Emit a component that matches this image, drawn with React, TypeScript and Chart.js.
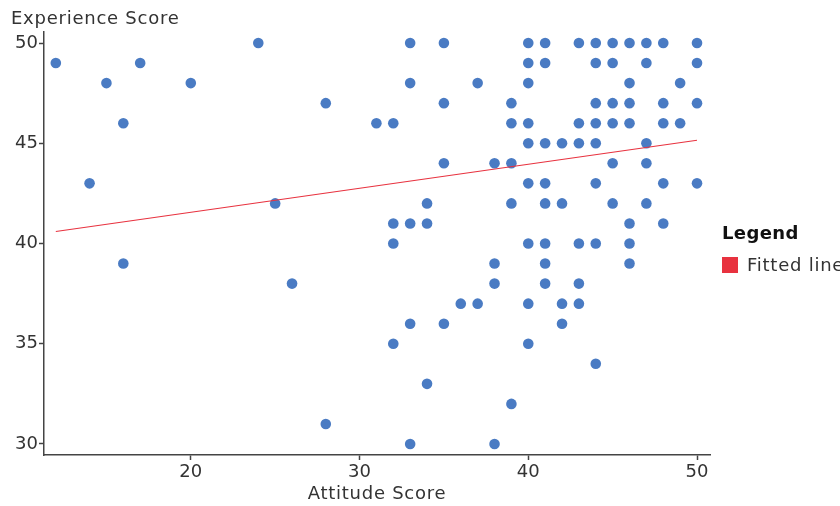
import React, { useEffect, useRef } from "react";
import { Chart, registerables } from "chart.js";

Chart.register(...registerables);

// Attitude Score (x) and Experience Score (y), grouped by experience level
const attitudeScores: number[] = [
  24, 33, 35, 40, 41, 43, 44, 45, 46, 47, 48, 50,
  12, 17, 40, 41, 44, 45, 47, 50,
  15, 20, 33, 37, 40, 46, 49,
  28, 35, 39, 44, 45, 46, 48, 50,
  16, 31, 32, 39, 40, 43, 44, 45, 46, 48, 49,
  40, 41, 42, 43, 44, 47,
  35, 38, 39, 45, 47,
  14, 40, 41, 44, 48, 50,
  25, 34, 39, 41, 42, 45, 47,
  32, 33, 34, 46, 48,
  32, 40, 41, 43, 44, 46,
  16, 38, 41, 46,
  26, 38, 41, 43,
  36, 37, 40, 42, 43,
  33, 35, 42,
  32, 40,
  44,
  34,
  39,
  28,
  33, 38,
];
const experienceScores: number[] = [
  50, 50, 50, 50, 50, 50, 50, 50, 50, 50, 50, 50,
  49, 49, 49, 49, 49, 49, 49, 49,
  48, 48, 48, 48, 48, 48, 48,
  47, 47, 47, 47, 47, 47, 47, 47,
  46, 46, 46, 46, 46, 46, 46, 46, 46, 46, 46,
  45, 45, 45, 45, 45, 45,
  44, 44, 44, 44, 44,
  43, 43, 43, 43, 43, 43,
  42, 42, 42, 42, 42, 42, 42,
  41, 41, 41, 41, 41,
  40, 40, 40, 40, 40, 40,
  39, 39, 39, 39,
  38, 38, 38, 38,
  37, 37, 37, 37, 37,
  36, 36, 36,
  35, 35,
  34,
  33,
  32,
  31,
  30, 30,
];

const fitX: number[] = [12, 50];
const fitY: number[] = [40.6, 45.15];

const xTicks: number[] = [20, 30, 40, 50];
const yTicks: number[] = [30, 35, 40, 45, 50];

const xTitle = "Attitude Score";
const yTitle = "Experience Score";
const legendTitle = "Legend";
const legendLabel = "Fitted line";

const FONT = "'DejaVu Sans', Verdana, sans-serif";
const TEXT = "#333333";
const AXIS = "#444444";
const POINT = "#4a7bc3";
const RED = "#e8323f";

export default function App() {
  const ref = useRef<HTMLCanvasElement | null>(null);

  useEffect(() => {
    if (!ref.current) return;
    const overlay = {
      id: "overlay",
      afterDraw(chart: any) {
        const ctx = chart.ctx as any;
        const area = chart.chartArea;
        ctx.save();
        ctx.fillStyle = TEXT;
        ctx.textBaseline = "middle";
        ctx.font = `18px ${FONT}`;
        ctx.letterSpacing = "0.75px";
        ctx.textAlign = "left";
        ctx.fillText(yTitle, 11, 19.5);
        ctx.textAlign = "center";
        ctx.fillText(xTitle, (area.left + area.right) / 2, 494);
        // legend
        ctx.textAlign = "left";
        ctx.fillStyle = "#111111";
        ctx.font = `bold 18px ${FONT}`;
        ctx.letterSpacing = "0.4px";
        ctx.fillText(legendTitle, 722, 234);
        ctx.fillStyle = RED;
        ctx.fillRect(722, 257, 16, 16);
        ctx.fillStyle = TEXT;
        ctx.font = `18px ${FONT}`;
        ctx.letterSpacing = "0.75px";
        ctx.fillText(legendLabel, 747, 266);
        ctx.restore();
      },
    };

    const chart = new Chart(ref.current, {
      type: "scatter",
      data: {
        datasets: [
          {
            type: "line",
            label: legendLabel,
            data: fitX.map((x, i) => ({ x, y: fitY[i] })),
            borderColor: RED,
            borderWidth: 1.2,
            pointRadius: 0,
            fill: false,
            order: 0,
          } as any,
          {
            label: "Scores",
            data: attitudeScores.map((x, i) => ({ x, y: experienceScores[i] })),
            backgroundColor: POINT,
            borderColor: POINT,
            pointRadius: 5.3,
            pointBorderWidth: 0,
            order: 1,
          },
        ],
      },
      plugins: [overlay],
      options: {
        animation: false,
        responsive: false,
        maintainAspectRatio: false,
        layout: { padding: { left: 0, right: 130, top: 32, bottom: 0 } },
        plugins: {
          legend: { display: false },
          tooltip: { enabled: false },
        },
        scales: {
          x: {
            type: "linear",
            min: 11.3,
            max: 50.77,
            afterFit: (s: any) => {
              s.height = 51;
            },
            afterBuildTicks: (s: any) => {
              s.ticks = xTicks.map((v) => ({ value: v }));
            },
            grid: {
              drawOnChartArea: false,
              drawTicks: true,
              tickLength: 5,
              color: AXIS,
              tickColor: AXIS,
              tickWidth: 1.5,
            },
            border: { display: true, color: AXIS, width: 1.5 },
            ticks: {
              color: TEXT,
              font: { family: FONT, size: 18 },
              padding: 2,
              maxRotation: 0,
            },
          },
          y: {
            type: "linear",
            min: 29.45,
            max: 50.55,
            afterFit: (s: any) => {
              s.width = 44;
            },
            afterBuildTicks: (s: any) => {
              s.ticks = yTicks.map((v) => ({ value: v }));
            },
            grid: {
              drawOnChartArea: false,
              drawTicks: true,
              tickLength: 5,
              color: AXIS,
              tickColor: AXIS,
              tickWidth: 1.5,
            },
            border: { display: true, color: AXIS, width: 1.5 },
            ticks: {
              color: TEXT,
              font: { family: FONT, size: 18 },
              padding: 1,
            },
          },
        },
      } as any,
    });
    return () => chart.destroy();
  }, []);

  return (
    <div style={{ position: "fixed", left: 0, top: 0, width: 840, height: 506, background: "#fff" }}>
      <canvas ref={ref} width={840} height={506} style={{ width: 840, height: 506, display: "block" }} />
    </div>
  );
}
